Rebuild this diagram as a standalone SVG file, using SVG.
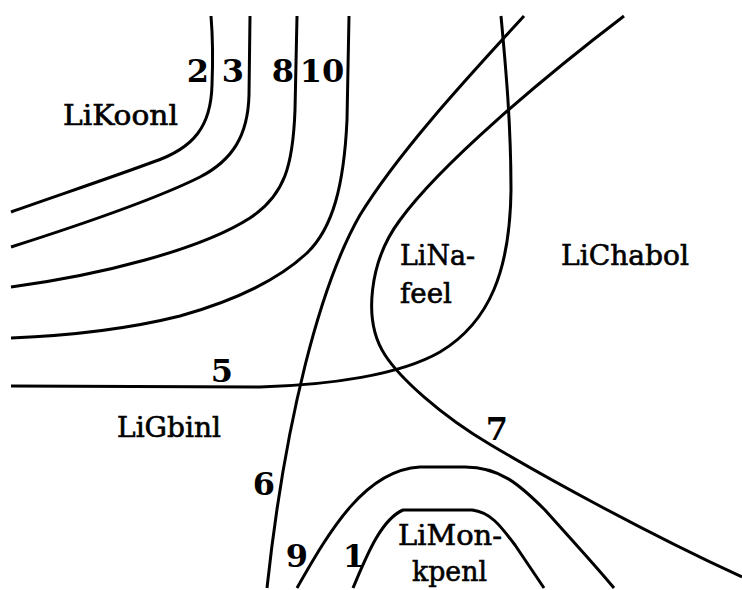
<svg xmlns="http://www.w3.org/2000/svg" width="742" height="590" viewBox="0 0 742 590">
<style>
.c{fill:none;stroke:#000;stroke-width:3;stroke-linejoin:round}
.n{font-family:"DejaVu Serif","Liberation Serif",serif;font-size:27px;fill:#000;stroke:#000;stroke-width:0.6}
.d{font-family:"DejaVu Serif","Liberation Serif",serif;font-size:32px;font-weight:bold;fill:#000;text-anchor:middle}
</style>
<rect width="742" height="590" fill="#fff"/>
<g id="connectors">
<path id="curve2" class="c" d="M211,16 C213,40 213,60 212,85 C211,125 195,148 153,162 C110,178 50,198 11,212"/>
<path id="curve3" class="c" d="M250,16 L249,95 C248,135 233,160 200,177 C160,197 80,225 11,247"/>
<path id="curve8" class="c" d="M297,16 L295,110 C293,165 285,195 250,218 C200,250 100,275 11,287"/>
<path id="curve10" class="c" d="M349,16 L347,120 C344,185 333,228 307,253 C275,283 230,302 180,316 C120,331 60,336 11,338"/>
<path id="curve6" class="c" d="M524,16 C470,75 400,150 360,215 C320,285 285,420 267,588"/>
<path id="curve5" class="c" d="M11,386 L260,387 C330,385 400,375 440,352 C490,322 510,270 511,190 C511,120 505,60 501,16"/>
<path id="curve7" class="c" d="M624,16 C540,80 440,165 400,220 C370,260 362,320 385,355 C400,378 440,415 491,445 C540,474 640,530 742,577"/>
<path id="curve9" class="c" d="M297,588 C330,530 365,470 420,467 L465,467 C500,467 520,485 545,510 C570,538 595,565 614,588"/>
<path id="curve1" class="c" d="M353,588 C365,560 380,520 403,510 L472,510 C490,512 500,525 515,545 L544,588"/>
</g>
<g id="LiKoonl"><text class="n" x="63" y="125" textLength="115" lengthAdjust="spacingAndGlyphs">LiKoonl</text></g>
<g id="LiChabol"><text class="n" x="561" y="265" textLength="128" lengthAdjust="spacingAndGlyphs">LiChabol</text></g>
<g id="LiNafeel"><text class="n" x="400" y="265" textLength="75" lengthAdjust="spacingAndGlyphs">LiNa-</text><text class="n" x="400" y="303" textLength="52" lengthAdjust="spacingAndGlyphs">feel</text></g>
<g id="LiGbinl"><text class="n" x="117" y="437" textLength="104" lengthAdjust="spacingAndGlyphs">LiGbinl</text></g>
<g id="LiMonkpenl"><text class="n" x="398" y="545" textLength="104" lengthAdjust="spacingAndGlyphs">LiMon-</text><text class="n" x="412" y="581" textLength="75" lengthAdjust="spacingAndGlyphs">kpenl</text></g>
<g id="labels">
<text class="d" x="198" y="82">2</text>
<text class="d" x="233" y="82">3</text>
<text class="d" x="283" y="82">8</text>
<text class="d" x="322" y="82">10</text>
<text class="d" x="222" y="382">5</text>
<text class="d" x="264" y="495">6</text>
<text class="d" x="297" y="567">9</text>
<text class="d" x="354" y="567">1</text>
<text class="d" x="497" y="440">7</text>
</g>
</svg>
